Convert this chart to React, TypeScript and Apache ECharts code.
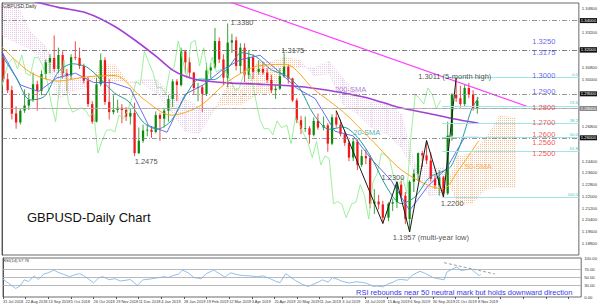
import React, { useEffect, useRef } from 'react';
import * as echarts from 'echarts';

const FONT = "'Liberation Sans', Arial, sans-serif";

// x-axis tick labels, one every 16 daily bars
const dateLabels = ['31 Jul 2018', '22 Aug 2018', '13 Sep 2018', '5 Oct 2018', '26 Oct 2018', '19 Nov 2018', '11 Dec 2018', '4 Jan 2019', '28 Jan 2019', '19 Feb 2019', '12 Mar 2019', '3 Apr 2019', '25 Apr 2019', '20 May 2019', '11 Jun 2019', '3 Jul 2019', '24 Jul 2019', '15 Aug 2019', '6 Sep 2019', '30 Sep 2019', '21 Oct 2019', '8 Nov 2019'];

// candles (3-day blocks): [bar, open, close, low, high]
const candles = [
  [1, 1.3150, 1.3000, 1.2980, 1.3175], [4, 1.3000, 1.2925, 1.2905, 1.3040], [7, 1.2925, 1.2765, 1.2725, 1.2955],
  [10, 1.2765, 1.2705, 1.2662, 1.2815], [13, 1.2705, 1.2785, 1.2690, 1.2800], [16, 1.2785, 1.2820, 1.2770, 1.2930],
  [19, 1.2820, 1.2860, 1.2790, 1.2905], [22, 1.2860, 1.2965, 1.2845, 1.3045], [25, 1.2965, 1.2920, 1.2785, 1.2990],
  [28, 1.2920, 1.3035, 1.2890, 1.3060], [31, 1.3035, 1.3115, 1.3000, 1.3135], [34, 1.3115, 1.3145, 1.3040, 1.3170],
  [37, 1.3145, 1.3070, 1.3050, 1.3298], [40, 1.3070, 1.3165, 1.3045, 1.3215], [43, 1.3165, 1.3040, 1.3005, 1.3190],
  [46, 1.3040, 1.3025, 1.2920, 1.3070], [49, 1.3025, 1.3150, 1.3000, 1.3170], [52, 1.3150, 1.3145, 1.3130, 1.3258],
  [55, 1.3145, 1.3090, 1.3070, 1.3215], [58, 1.3090, 1.2990, 1.2970, 1.3105], [61, 1.2990, 1.2830, 1.2810, 1.3015],
  [64, 1.2830, 1.2710, 1.2695, 1.2850], [67, 1.2710, 1.2965, 1.2705, 1.3010], [70, 1.2965, 1.3130, 1.2950, 1.3175],
  [73, 1.3130, 1.2845, 1.2825, 1.3150], [76, 1.2845, 1.2775, 1.2725, 1.3000], [79, 1.2775, 1.2790, 1.2760, 1.2890],
  [82, 1.2790, 1.2805, 1.2770, 1.2860], [85, 1.2805, 1.2790, 1.2700, 1.2830], [88, 1.2790, 1.2745, 1.2715, 1.2810],
  [91, 1.2745, 1.2770, 1.2690, 1.2800], [94, 1.2770, 1.2495, 1.2475, 1.2840], [97, 1.2495, 1.2580, 1.2490, 1.2670],
  [100, 1.2580, 1.2650, 1.2565, 1.2690], [103, 1.2650, 1.2655, 1.2610, 1.2690], [106, 1.2655, 1.2640, 1.2600, 1.2680],
  [109, 1.2640, 1.2755, 1.2630, 1.2780], [112, 1.2755, 1.2730, 1.2580, 1.2770], [115, 1.2730, 1.2785, 1.2670, 1.2800],
  [118, 1.2785, 1.2865, 1.2710, 1.2890], [121, 1.2865, 1.2985, 1.2810, 1.3000], [124, 1.2985, 1.2960, 1.2850, 1.3000],
  [127, 1.2960, 1.3190, 1.2950, 1.3215], [130, 1.3190, 1.3115, 1.3040, 1.3200], [133, 1.3115, 1.3045, 1.3005, 1.3150],
  [136, 1.3045, 1.2940, 1.2900, 1.3050], [139, 1.2940, 1.2945, 1.2850, 1.2975], [142, 1.2945, 1.2900, 1.2775, 1.2960],
  [145, 1.2900, 1.3060, 1.2885, 1.3110], [148, 1.3060, 1.3080, 1.3005, 1.3110], [151, 1.3080, 1.3260, 1.3070, 1.3350],
  [154, 1.3260, 1.3135, 1.3110, 1.3285], [157, 1.3135, 1.3010, 1.2960, 1.3170], [160, 1.3010, 1.3250, 1.2945, 1.3380],
  [163, 1.3250, 1.3265, 1.3180, 1.3310], [166, 1.3265, 1.3090, 1.3060, 1.3290], [169, 1.3090, 1.3215, 1.3040, 1.3245],
  [172, 1.3215, 1.3030, 1.2980, 1.3245], [175, 1.3030, 1.3150, 1.3000, 1.3200], [178, 1.3150, 1.3050, 1.3000, 1.3170],
  [182, 1.3050, 1.3070, 1.3030, 1.3130], [185, 1.3070, 1.3045, 1.3030, 1.3120], [188, 1.3045, 1.2995, 1.2975, 1.3075],
  [191, 1.2995, 1.2925, 1.2905, 1.3030], [194, 1.2925, 1.2935, 1.2865, 1.2960], [197, 1.2935, 1.3020, 1.2925, 1.3075],
  [200, 1.3020, 1.3085, 1.3010, 1.3176], [203, 1.3085, 1.3005, 1.2970, 1.3100], [206, 1.3005, 1.2855, 1.2845, 1.3010],
  [209, 1.2855, 1.2720, 1.2700, 1.2870], [212, 1.2720, 1.2660, 1.2625, 1.2750], [215, 1.2660, 1.2665, 1.2640, 1.2745],
  [218, 1.2665, 1.2620, 1.2560, 1.2680], [221, 1.2620, 1.2715, 1.2610, 1.2740], [224, 1.2715, 1.2670, 1.2655, 1.2765],
  [228, 1.2670, 1.2685, 1.2650, 1.2745], [231, 1.2685, 1.2560, 1.2505, 1.2700], [234, 1.2560, 1.2740, 1.2550, 1.2760],
  [237, 1.2740, 1.2690, 1.2670, 1.2785], [240, 1.2690, 1.2625, 1.2610, 1.2725], [243, 1.2625, 1.2565, 1.2545, 1.2650],
  [246, 1.2565, 1.2465, 1.2440, 1.2580], [249, 1.2465, 1.2575, 1.2440, 1.2600], [252, 1.2575, 1.2415, 1.2380, 1.2590],
  [255, 1.2415, 1.2475, 1.2400, 1.2520], [258, 1.2475, 1.2460, 1.2420, 1.2520], [261, 1.2460, 1.2150, 1.2120, 1.2480],
  [264, 1.2150, 1.2165, 1.2080, 1.2250], [267, 1.2165, 1.2145, 1.2110, 1.2210], [270, 1.2145, 1.2055, 1.2015, 1.2170],
  [274, 1.2055, 1.2150, 1.2030, 1.2160], [277, 1.2150, 1.2160, 1.2100, 1.2185], [280, 1.2160, 1.2280, 1.2120, 1.2300],
  [283, 1.2280, 1.2205, 1.2190, 1.2305], [286, 1.2205, 1.2045, 1.2010, 1.2230], [289, 1.2045, 1.2300, 1.1957, 1.2310],
  [292, 1.2300, 1.2355, 1.2230, 1.2385], [295, 1.2355, 1.2495, 1.2305, 1.2500], [298, 1.2495, 1.2480, 1.2400, 1.2510],
  [301, 1.2480, 1.2445, 1.2420, 1.2582], [304, 1.2445, 1.2320, 1.2300, 1.2500], [307, 1.2320, 1.2275, 1.2250, 1.2345],
  [310, 1.2275, 1.2330, 1.2205, 1.2380], [313, 1.2330, 1.2220, 1.2195, 1.2340], [316, 1.2220, 1.2615, 1.2210, 1.2710],
  [319, 1.2615, 1.2895, 1.2580, 1.2905], [322, 1.2895, 1.2870, 1.2845, 1.3011], [325, 1.2870, 1.2830, 1.2805, 1.2955],
  [328, 1.2830, 1.2940, 1.2815, 1.2960], [331, 1.2940, 1.2895, 1.2870, 1.2975], [334, 1.2895, 1.2800, 1.2785, 1.2925],
  [337, 1.2800, 1.2855, 1.2765, 1.2880],
];

const CHIKOU_SHIFT = 26;

const sma20 = [[0, 1.3160], [10, 1.3011], [20, 1.2858], [30, 1.2882], [40, 1.3050], [50, 1.3105], [60, 1.3083], [70, 1.2999], [80, 1.2904], [90, 1.2846], [100, 1.2708], [110, 1.2659], [120, 1.2717], [130, 1.2885], [140, 1.3001], [150, 1.2997], [160, 1.3074], [170, 1.3181], [180, 1.3154], [191, 1.3064], [201, 1.3026], [211, 1.2939], [221, 1.2759], [232, 1.2658], [242, 1.2673], [252, 1.2604], [262, 1.2462], [273, 1.2259], [283, 1.2151], [293, 1.2198], [303, 1.2329], [313, 1.2373], [318, 1.2400], [323, 1.2504], [328, 1.2641], [333, 1.2797], [338, 1.2874]];
const sma50 = [[0, 1.3220], [20, 1.3047], [40, 1.2987], [60, 1.3016], [80, 1.3025], [100, 1.2867], [120, 1.2754], [140, 1.2816], [160, 1.2982], [181, 1.3089], [201, 1.3101], [221, 1.2932], [242, 1.2776], [262, 1.2585], [283, 1.2382], [303, 1.2272], [313, 1.2252], [323, 1.2370], [338, 1.2580]];
const sma200 = [[17, 1.3545], [40, 1.3490], [60, 1.3452], [80, 1.3360], [97, 1.3247], [110, 1.3150], [121, 1.3062], [130, 1.3020], [140, 1.2993], [160, 1.2975], [182, 1.2966], [210, 1.2950], [231, 1.2925], [245, 1.2900], [260, 1.2870], [281, 1.2808], [302, 1.2767], [320, 1.2730], [338, 1.2699]];
const kijun = [[0, 1.3185], [13, 1.2961], [26, 1.2916], [39, 1.3009], [52, 1.3041], [65, 1.2977], [78, 1.2977], [91, 1.2935], [104, 1.2683], [117, 1.2638], [130, 1.2898], [143, 1.2963], [156, 1.3063], [169, 1.3133], [183, 1.3163], [196, 1.3055], [209, 1.2938], [222, 1.2868], [236, 1.2645], [249, 1.2613], [262, 1.2453], [276, 1.2308], [289, 1.2104], [302, 1.2270], [315, 1.2389], [328, 1.2603], [338, 1.2603]];

const cloudBars = [0, 10, 20, 30, 40, 50, 60, 70, 80, 90, 100, 110, 120, 130, 140, 150, 160, 170, 181, 191, 201, 211, 221, 232, 242, 252, 262, 273, 283, 293, 303, 313, 323, 333, 343, 353, 364];
const spanA = [1.3296, 1.3250, 1.3208, 1.3114, 1.2868, 1.2918, 1.2942, 1.3098, 1.3099, 1.2977, 1.2967, 1.2899, 1.2774, 1.2641, 1.2630, 1.2783, 1.2968, 1.2928, 1.3119, 1.3120, 1.3149, 1.3131, 1.3024, 1.3037, 1.2824, 1.2765, 1.2669, 1.2626, 1.2536, 1.2353, 1.2203, 1.2219, 1.2480, 1.2490, 1.2600, 1.2750, 1.2737];
const spanB = [1.3738, 1.3530, 1.3325, 1.3233, 1.3069, 1.3011, 1.3011, 1.2980, 1.2980, 1.2980, 1.2997, 1.2997, 1.2899, 1.2867, 1.2808, 1.2808, 1.2828, 1.2828, 1.2895, 1.2910, 1.3078, 1.3078, 1.3078, 1.3123, 1.3003, 1.2903, 1.2841, 1.2841, 1.2760, 1.2420, 1.2400, 1.2400, 1.2140, 1.2150, 1.2250, 1.2260, 1.2260];

const trendline = [[162, 1.3526], [372, 1.2815]];
const zigzag = [[237, 1.2785], [270, 1.2015], [280, 1.2300], [289, 1.1957], [301, 1.2582], [313, 1.2195], [322, 1.3011]];

const dashedLevels = [1.3380, 1.3250, 1.3175, 1.2900, 1.2800, 1.2560];
const bidLevel = 1.2845;
const fibStartBar = 312;
const fibPrices = [1.3011, 1.2818, 1.2699, 1.2603, 1.2507, 1.2195];
const fibNames = ['0.0', '23.6', '38.2', '50.0', '61.8', '100.0'];

const rsi = [[0, 46], [4, 35], [9, 22], [12, 28], [15, 44], [18, 40], [22, 54], [25, 45], [29, 59], [32, 62], [36, 69], [39, 63], [43, 58], [47, 52], [50, 56], [54, 60], [57, 55], [61, 45], [64, 36], [68, 50], [71, 52], [75, 44], [79, 47], [83, 41], [87, 43], [90, 45], [95, 30], [99, 44], [104, 46], [109, 49], [114, 52], [117, 50], [121, 56], [124, 58], [127, 69], [131, 62], [135, 50], [140, 47], [144, 60], [149, 69], [153, 60], [157, 51], [161, 62], [166, 57], [170, 55], [175, 54], [180, 52], [184, 54], [189, 47], [193, 40], [196, 37], [200, 60], [203, 52], [207, 42], [212, 32], [216, 27], [219, 32], [223, 38], [226, 44], [230, 38], [233, 50], [237, 45], [240, 40], [245, 36], [250, 39], [255, 37], [258, 34], [262, 27], [265, 28], [269, 26], [272, 33], [276, 38], [279, 44], [282, 45], [286, 43], [290, 57], [295, 66], [299, 60], [304, 50], [309, 46], [312, 44], [314, 64], [318, 72], [321, 77], [324, 68], [328, 70], [331, 72], [335, 60], [337, 55], [338, 58]];
const rsiTrend = [[312, 88], [348, 59]];
const rsiLevels = [70, 50, 30];

const annotations = [
  { text: '1.3380', at: [162, 1.3390], color: '#222222' },
  { text: '1.3175', at: [198, 1.3199], color: '#222222' },
  { text: '1.3011 (5-month high)', at: [295, 1.3015], color: '#222222' },
  { text: '200-SMA', at: [236, 1.2933], color: '#9a5fd0' },
  { text: '20-SMA', at: [249, 1.2639], color: '#1f9a9a' },
  { text: '50-SMA', at: [328, 1.2407], color: '#ff9a2a' },
  { text: '1.2300', at: [269, 1.2332], color: '#222222' },
  { text: '1.2200', at: [311, 1.2154], color: '#222222' },
  { text: '1.1957 (multi-year low)', at: [277, 1.1922], color: '#222222' },
  { text: '1.2475', at: [94, 1.2441], color: '#222222' },
  { text: '1.3250', at: [376, 1.3254], color: '#3a3ae8' },
  { text: '1.3175', at: [376, 1.3179], color: '#3a3ae8' },
  { text: '1.3000', at: [376, 1.3022], color: '#3a3ae8' },
  { text: '1.2900', at: [376, 1.2919], color: '#3a3ae8' },
  { text: '1.2800', at: [376, 1.2810], color: '#ee2b2b' },
  { text: '1.2700', at: [376, 1.2707], color: '#ee2b2b' },
  { text: '1.2600', at: [376, 1.2625], color: '#ee2b2b' },
  { text: '1.2560', at: [376, 1.2571], color: '#ee2b2b' },
  { text: '1.2500', at: [376, 1.2496], color: '#ee2b2b' },
];

function dotPattern(color: string): any {
  if (typeof document === 'undefined') return color;
  const c = document.createElement('canvas');
  c.width = 2; c.height = 2;
  const ctx = c.getContext('2d');
  if (!ctx) return color;
  ctx.fillStyle = color;
  ctx.fillRect(0, 0, 1, 1);
  return { image: c, repeat: 'repeat' };
}

function buildOption(): any {
  const axisBox = (bg: string) => ({
    show: true, position: 'end', distance: 1, fontSize: 4.2, color: '#fff', backgroundColor: bg,
    padding: [1, 1, 0, 1], fontFamily: FONT, formatter: (p: any) => Number(p.value).toFixed(5),
  });
  const boxed = dashedLevels.concat([bidLevel]);

  const markData: any[] = dashedLevels.map((v) => ({
    yAxis: v, lineStyle: { color: '#7a7a7a', width: 0.8, type: [5, 2, 1, 2] }, label: axisBox('#111'),
  }));
  markData.push({ yAxis: bidLevel, lineStyle: { color: '#b0b0b0', width: 0.8, type: 'solid' }, label: axisBox('#8a8a8a') });
  fibPrices.forEach((p, i) => {
    markData.push([
      { coord: [fibStartBar, p], lineStyle: { color: '#9fe6e6', width: 1, type: 'solid' },
        label: { show: true, position: 'insideEndTop', distance: 1, fontSize: 4.2, color: '#4cc4c4', formatter: fibNames[i] } },
      { coord: [409, p] },
    ]);
  });

  const cloudData = cloudBars.map((b, i) => [b, spanA[i], spanB[i]]);
  const peach = dotPattern('rgba(240,150,90,0.6)');
  const thistle = dotPattern('rgba(215,160,215,0.55)');

  const lineSeries = (name: string, data: number[][], color: string, width: number, extra: any = {}) => ({
    name, type: 'line', xAxisIndex: 0, yAxisIndex: 0, data, showSymbol: false, symbol: 'none',
    lineStyle: { color, width }, silent: true, z: 3, ...extra,
  });

  return {
    animation: false,
    backgroundColor: '#ffffff',
    textStyle: { fontFamily: FONT },
    grid: [
      { left: 2, top: 3, width: 580, height: 252, show: true, borderColor: '#6a6a6a', borderWidth: 1 },
      { left: 2, top: 258, width: 580, height: 39, show: true, borderColor: '#6a6a6a', borderWidth: 1 },
    ],
    xAxis: [
      { type: 'value', gridIndex: 0, min: 0, max: 409, interval: 16, axisLine: { show: false }, axisTick: { show: false }, axisLabel: { show: false }, splitLine: { show: false } },
      {
        type: 'value', gridIndex: 1, min: 0, max: 409, interval: 16,
        axisLine: { show: false }, axisTick: { show: true, length: 2, lineStyle: { color: '#555' } },
        axisLabel: {
          fontSize: 3.9, color: '#333', align: 'left', margin: 2, showMinLabel: true, showMaxLabel: false, hideOverlap: false,
          formatter: (v: number) => { const k = Math.round(v / 16); return Math.abs(v - k * 16) < 0.01 && dateLabels[k] ? dateLabels[k] : ''; },
        },
        splitLine: { show: false },
      },
    ],
    yAxis: [
      {
        type: 'value', gridIndex: 0, position: 'right', min: 1.18, max: 1.352, interval: 0.004,
        axisLine: { show: true, lineStyle: { color: '#555' } }, axisTick: { show: false },
        axisLabel: {
          fontSize: 4.2, color: '#333', margin: 3, showMinLabel: false,
          formatter: (v: number) => {
            if (Math.round((v - 1.18) / 0.004) % 2 !== 0) return '';
            if (v < 1.183) return '';
            if (boxed.some((b) => Math.abs(b - v) < 0.0045)) return '';
            return v.toFixed(5);
          },
        },
        splitLine: { show: false },
      },
      {
        type: 'value', gridIndex: 1, position: 'right', min: 0, max: 100, interval: 10,
        axisLine: { show: true, lineStyle: { color: '#555' } }, axisTick: { show: false },
        axisLabel: { fontSize: 4.2, color: '#333', margin: 3, formatter: (v: number) => ([0, 30, 50, 70, 100].indexOf(Math.round(v)) >= 0 ? v.toFixed(2) : '') },
        splitLine: { show: false },
      },
    ],
    graphic: [
      { type: 'text', left: 3, top: 3, silent: true, style: { text: 'GBPUSD,Daily', fontSize: 5, fill: '#333', fontFamily: FONT } },
      { type: 'text', left: 3, top: 258.5, silent: true, style: { text: 'RSI(14) 57.76', fontSize: 4.2, fill: '#333', fontFamily: FONT } },
      { type: 'text', left: 27, top: 210.5, silent: true, style: { text: 'GBPUSD-Daily Chart', fontSize: 13, fill: '#111', fontFamily: FONT } },
      { type: 'text', left: 356, top: 288, silent: true, style: { text: 'RSI rebounds near 50 neutral mark but holds downward direction', fontSize: 7.5, fill: '#3a3ae8', fontFamily: FONT } },
    ],
    series: [
      {
        name: 'cloud', type: 'custom', xAxisIndex: 0, yAxisIndex: 0, data: cloudData, clip: true, silent: true, z: 1,
        encode: { x: 0, y: [1, 2] },
        renderItem: (params: any, api: any) => {
          const i = params.dataIndex;
          if (i >= cloudBars.length - 1) return { type: 'group', children: [] };
          const a1 = api.coord([cloudBars[i], spanA[i]]);
          const a2 = api.coord([cloudBars[i + 1], spanA[i + 1]]);
          const b2 = api.coord([cloudBars[i + 1], spanB[i + 1]]);
          const b1 = api.coord([cloudBars[i], spanB[i]]);
          const up = spanA[i] + spanA[i + 1] >= spanB[i] + spanB[i + 1];
          return {
            type: 'polygon', shape: { points: [a1, a2, b2, b1] },
            style: { fill: up ? peach : thistle, stroke: up ? 'rgba(240,160,100,0.2)' : 'rgba(210,170,210,0.25)', lineWidth: 0.5 },
          };
        },
      },
      {
        name: 'candles', type: 'custom', xAxisIndex: 0, yAxisIndex: 0, data: candles, clip: true, silent: true, z: 2,
        encode: { x: 0, y: [1, 2, 3, 4] },
        renderItem: (params: any, api: any) => {
          const x = api.value(0);
          const o = api.value(1); const c = api.value(2); const l = api.value(3); const h = api.value(4);
          const pO = api.coord([x, o]); const pC = api.coord([x, c]);
          const pL = api.coord([x, l]); const pH = api.coord([x, h]);
          const w = api.size([1.6, 0])[0];
          const color = c >= o ? '#0b8a0b' : '#f01818';
          const top = Math.min(pO[1], pC[1]);
          const hgt = Math.max(Math.abs(pO[1] - pC[1]), 0.8);
          return {
            type: 'group',
            children: [
              { type: 'line', shape: { x1: pH[0], y1: pH[1], x2: pL[0], y2: pL[1] }, style: { stroke: color, lineWidth: 0.8 } },
              { type: 'rect', shape: { x: pO[0] - w / 2, y: top, width: w, height: hgt }, style: { fill: color } },
            ],
          };
        },
      },
      lineSeries('chikou', candles.map((c) => [c[0] - CHIKOU_SHIFT, c[2]]), '#84ec84', 0.8),
      lineSeries('kijun', kijun, '#5a5af5', 0.9),
      lineSeries('200-SMA', sma200, '#a43fd6', 1.6, { smooth: 0.3 }),
      lineSeries('50-SMA', sma50, '#ffa31a', 1, { smooth: 0.3 }),
      lineSeries('20-SMA', sma20, '#229b9b', 1, { smooth: 0.3 }),
      lineSeries('trendline', trendline, '#ff3cff', 1.2),
      lineSeries('zigzag', zigzag, '#1a1a1a', 1, {
        markLine: { silent: true, symbol: ['none', 'none'], animation: false, data: markData },
      }),
      {
        name: 'annotations', type: 'scatter', xAxisIndex: 0, yAxisIndex: 0, silent: true, z: 10,
        symbolSize: 0.1, itemStyle: { color: 'rgba(0,0,0,0)' },
        data: annotations.map((a) => ({
          value: a.at,
          label: { show: true, position: 'right', distance: 0, formatter: a.text, color: a.color, fontSize: 7.5, fontFamily: FONT },
        })),
      },
      {
        name: 'RSI', type: 'line', xAxisIndex: 1, yAxisIndex: 1, data: rsi, showSymbol: false, symbol: 'none', silent: true,
        lineStyle: { color: '#86b8ec', width: 0.9 },
        markLine: {
          silent: true, symbol: ['none', 'none'], label: { show: false },
          lineStyle: { color: '#a8a8a8', width: 0.8, type: 'solid' },
          data: rsiLevels.map((v) => ({ yAxis: v })),
        },
      },
      {
        name: 'RSI trend', type: 'line', xAxisIndex: 1, yAxisIndex: 1, data: rsiTrend, showSymbol: false, symbol: 'none', silent: true,
        lineStyle: { color: '#888', width: 0.8, type: [3, 2] },
      },
    ],
  };
}

export default function App() {
  const ref = useRef<HTMLDivElement>(null);
  useEffect(() => {
    if (!ref.current) return;
    const chart = echarts.init(ref.current, undefined, { renderer: 'svg' });
    chart.setOption(buildOption());
    return () => chart.dispose();
  }, []);
  return <div ref={ref} style={{ position: 'fixed', left: 0, top: 0, width: 600, height: 306, background: '#fff' }} />;
}
